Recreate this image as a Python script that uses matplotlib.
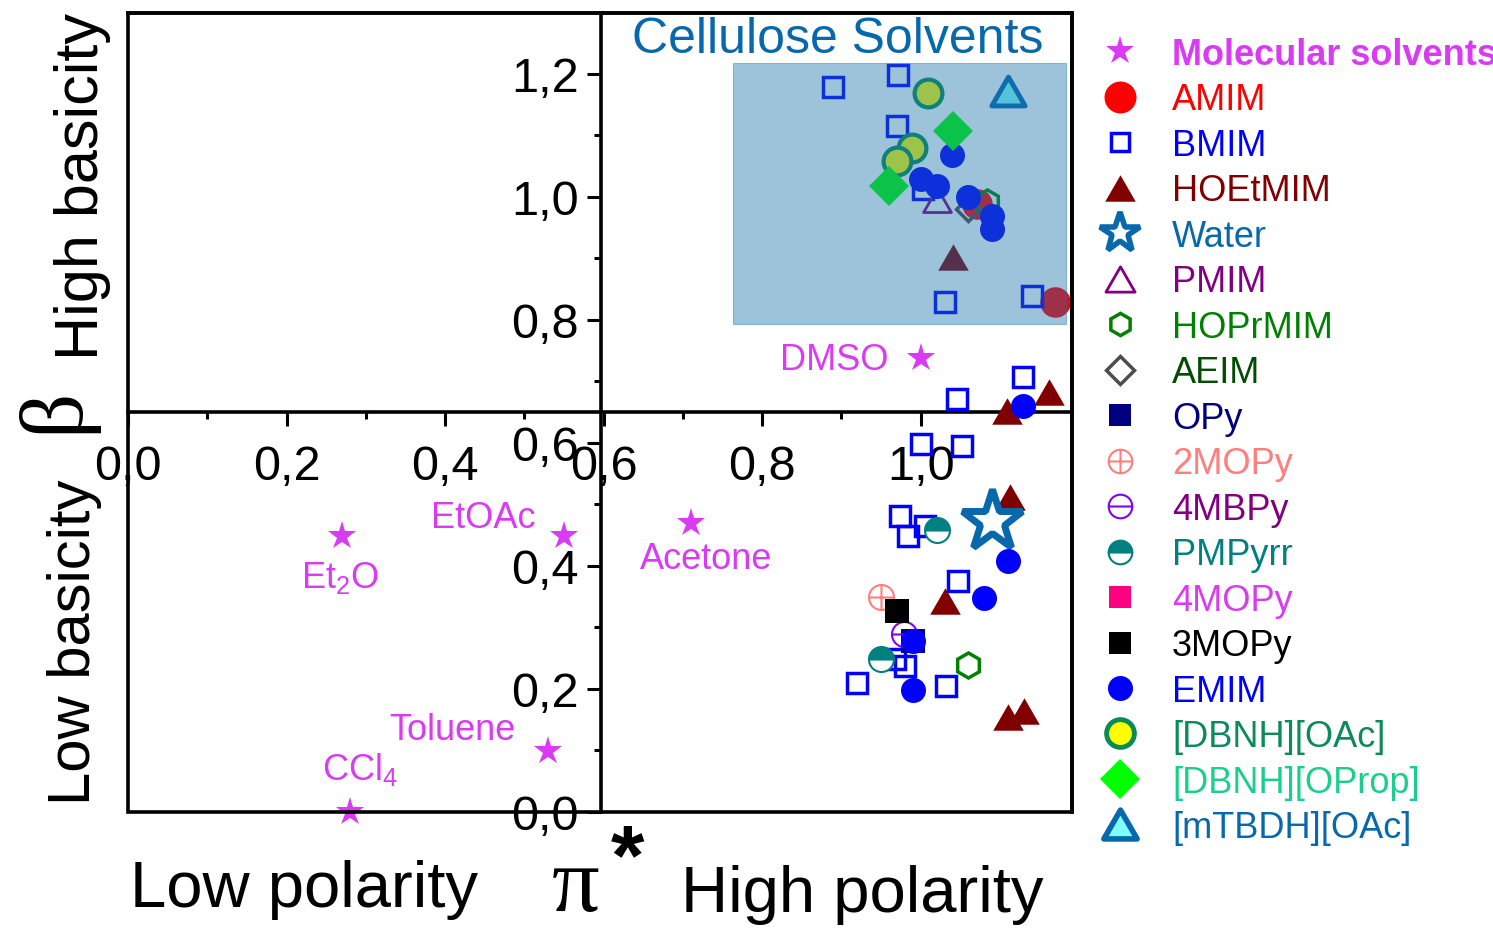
import matplotlib
matplotlib.use("Agg")
import matplotlib.pyplot as plt
from matplotlib.path import Path
from matplotlib.patches import Rectangle
from matplotlib.lines import Line2D
from matplotlib.ticker import MultipleLocator, FuncFormatter

plt.rcParams['font.family'] = ['Liberation Sans', 'DejaVu Sans']
plt.rcParams['mathtext.fontset'] = 'custom'
plt.rcParams['mathtext.rm'] = 'Liberation Sans'
plt.rcParams['mathtext.it'] = 'Liberation Sans:italic'
plt.rcParams['mathtext.bf'] = 'Liberation Sans:bold'

# ---------------- data (pi*, beta) ----------------
solv_names = ['Et$_2$O', 'EtOAc', 'Toluene', 'CCl$_4$', 'Acetone', 'DMSO']
solv_x = [0.270, 0.550, 0.530, 0.280, 0.710, 1.000]
solv_y = [0.449, 0.449, 0.099, 0.000, 0.470, 0.738]

amim_x = [1.071, 1.170]
amim_y = [0.989, 0.829]

bmim_x = [0.890, 0.972, 0.970, 1.031, 1.141, 1.003, 1.046, 1.129, 1.001, 1.052,
          0.974, 0.984, 1.006, 1.047, 0.920, 1.032, 0.980, 0.968]
bmim_y = [1.179, 1.198, 1.115, 0.829, 0.839, 1.013, 0.672, 0.707, 0.598, 0.595,
          0.481, 0.449, 0.465, 0.376, 0.210, 0.205, 0.237, 0.249]

hoetmim_x = [1.041, 1.109, 1.162, 1.113, 1.031, 1.110, 1.131]
hoetmim_y = [0.902, 0.652, 0.683, 0.512, 0.343, 0.154, 0.164]

water_x = [1.090]
water_y = [0.473]

pmim_x = [1.021]
pmim_y = [0.995]

hoprmim_x = [1.084, 1.060]
hoprmim_y = [0.992, 0.239]

aeim_x = [1.060]
aeim_y = [0.980]

opy_x = [0.990]
opy_y = [0.278]

mopy2_x = [0.950]
mopy2_y = [0.350]

mbpy4_x = [0.979]
mbpy4_y = [0.289]

pmpyrr_x = [1.021, 0.950]
pmpyrr_y = [0.459, 0.249]

mopy4_x = []
mopy4_y = []

mopy3_x = [0.970]
mopy3_y = [0.327]

emim_x = [1.040, 1.001, 1.021, 1.060, 1.090, 1.090, 1.129, 1.110, 1.080, 0.990, 0.990]
emim_y = [1.068, 1.029, 1.018, 1.000, 0.969, 0.948, 0.660, 0.408, 0.348, 0.278, 0.198]

dbnh_oac_x = [1.009, 0.989, 0.970]
dbnh_oac_y = [1.169, 1.080, 1.059]

dbnh_oprop_x = [1.041, 0.960]
dbnh_oprop_y = [1.107, 1.018]

mtbdh_x = [1.110]
mtbdh_y = [1.172]

legend_labels = ['Molecular solvents', 'AMIM', 'BMIM', 'HOEtMIM', 'Water', 'PMIM',
                 'HOPrMIM', 'AEIM', 'OPy', '2MOPy', '4MBPy', 'PMPyrr', '4MOPy',
                 '3MOPy', 'EMIM', '[DBNH][OAc]', '[DBNH][OProp]', '[mTBDH][OAc]']

# ---------------- marker shapes ----------------
tri = Path([(0, 0.866), (-1, -0.866), (1, -0.866), (0, 0.866)],
           [Path.MOVETO, Path.LINETO, Path.LINETO, Path.CLOSEPOLY])
hline = Path([(-1, 0), (1, 0)], [Path.MOVETO, Path.LINETO])
vline = Path([(0, -1), (0, 1)], [Path.MOVETO, Path.LINETO])
circ_plus = Path.make_compound_path(Path.unit_circle(), hline, vline)
circ_minus = Path.make_compound_path(Path.unit_circle(), hline)

MAG = '#D93BF5'
STEEL = '#0868AC'

styles = {
    'Molecular solvents': dict(marker='*', color=MAG, ms=21, mew=0),
    'AMIM': dict(marker='o', color='#FF0000', ms=22, mew=0),
    'BMIM': dict(marker='s', mfc='none', mec='#0000FF', ms=14, mew=2.5),
    'HOEtMIM': dict(marker=tri, color='#800000', ms=22, mew=0),
    'Water': dict(marker='*', mfc='white', mec=STEEL, ms=46, mew=5),
    'PMIM': dict(marker=tri, mfc='none', mec='#800080', ms=20, mew=2),
    'HOPrMIM': dict(marker='h', mfc='none', mec='#008000', ms=18, mew=2.5),
    'AEIM': dict(marker='D', mfc='none', mec='#4D4D4D', ms=12, mew=2.5),
    'OPy': dict(marker='s', color='#000080', ms=17, mew=0),
    '2MOPy': dict(marker=circ_plus, mfc='none', mec='#FF7F7F', ms=18, mew=1.5),
    '4MBPy': dict(marker=circ_minus, mfc='none', mec='#8000FF', ms=18, mew=1.5),
    'PMPyrr': dict(marker='o', fillstyle='top', mfc='#008080', mfcalt='white',
                   mec='#008080', ms=18, mew=1.5),
    '4MOPy': dict(marker='s', color='#FF0080', ms=17, mew=0),
    '3MOPy': dict(marker='s', color='#000000', ms=17, mew=0),
    'EMIM': dict(marker='o', color='#0000FF', ms=18, mew=0),
    '[DBNH][OAc]': dict(marker='o', mfc='#FFFF00', mec='#0A8A55', ms=20, mew=3),
    '[DBNH][OProp]': dict(marker='D', color='#00FF00', ms=20, mew=0),
    '[mTBDH][OAc]': dict(marker=tri, mfc='#80FFFF', mec=STEEL, ms=24, mew=3.5),
}

legend_sizes = {
    'Molecular solvents': 21, 'AMIM': 23, 'BMIM': 13.5, 'HOEtMIM': 22, 'Water': 30,
    'PMIM': 21, 'HOPrMIM': 16, 'AEIM': 14, 'OPy': 16.5, '2MOPy': 17, '4MBPy': 17,
    'PMPyrr': 17, '4MOPy': 16.5, '3MOPy': 16.5, 'EMIM': 18, '[DBNH][OAc]': 20,
    '[DBNH][OProp]': 20, '[mTBDH][OAc]': 24,
}
legend_mew = {'Water': 4, '[mTBDH][OAc]': 4, '[DBNH][OAc]': 3.5}

text_colors = [MAG, '#FF0000', '#0000FF', '#800000', STEEL, '#800080', '#008000',
               '#004D00', '#000080', '#FF7F7F', '#800080', '#008080', MAG, '#000000',
               '#0000FF', '#0B8A5A', '#19CF8B', STEEL]

series = {
    'Molecular solvents': (solv_x, solv_y), 'AMIM': (amim_x, amim_y),
    'BMIM': (bmim_x, bmim_y), 'HOEtMIM': (hoetmim_x, hoetmim_y),
    'Water': (water_x, water_y), 'PMIM': (pmim_x, pmim_y),
    'HOPrMIM': (hoprmim_x, hoprmim_y), 'AEIM': (aeim_x, aeim_y),
    'OPy': (opy_x, opy_y), '2MOPy': (mopy2_x, mopy2_y), '4MBPy': (mbpy4_x, mbpy4_y),
    'PMPyrr': (pmpyrr_x, pmpyrr_y), '4MOPy': (mopy4_x, mopy4_y),
    '3MOPy': (mopy3_x, mopy3_y), 'EMIM': (emim_x, emim_y),
    '[DBNH][OAc]': (dbnh_oac_x, dbnh_oac_y), '[DBNH][OProp]': (dbnh_oprop_x, dbnh_oprop_y),
    '[mTBDH][OAc]': (mtbdh_x, mtbdh_y),
}

# ---------------- figure ----------------
W, H = 1493, 929
fig = plt.figure(figsize=(W / 100, H / 100), dpi=100)
fig.patch.set_facecolor('white')


def fx(px):
    return px / W


def fy(py):
    return 1 - py / H


ax = fig.add_axes([fx(128), fy(813), (1072 - 128) / W, (813 - 14) / H])
ax.set_xlim(0, 1.191)
ax.set_ylim(0, 1.299)

LW = 2.6
ax.spines['left'].set_position(('data', 0.597))
ax.spines['bottom'].set_position(('data', 0.65))
for s in ax.spines.values():
    s.set_linewidth(LW)
ax.add_patch(Rectangle((0, 0), 1, 1, transform=ax.transAxes, fill=False,
                       lw=LW, edgecolor='black', clip_on=False, zorder=5))

fmt = FuncFormatter(lambda v, p: f"{v:.1f}".replace('.', ','))
ax.set_xticks([0, 0.2, 0.4, 0.6, 0.8, 1.0])
ax.set_yticks([0, 0.2, 0.4, 0.6, 0.8, 1.0, 1.2])
ax.xaxis.set_minor_locator(MultipleLocator(0.1))
ax.yaxis.set_minor_locator(MultipleLocator(0.1))
ax.xaxis.set_major_formatter(fmt)
ax.yaxis.set_major_formatter(fmt)
ax.tick_params(which='major', direction='out', length=10, width=2.2, labelsize=35, pad=6)
ax.tick_params(axis='x', which='major', pad=13)
ax.tick_params(which='minor', direction='out', length=5, width=2.2)
ax.tick_params(top=False, right=False)

# scatter series
for name in legend_labels:
    xs, ys = series[name]
    st = dict(styles[name])
    ax.plot(xs, ys, linestyle='none', clip_on=False, zorder=3, **st)

# solvent labels
label_offsets = {
    'Et$_2$O': (-2, -41, 'center'), 'EtOAc': (-81, 18, 'center'),
    'Toluene': (-96, 22, 'center'), 'CCl$_4$': (10, 43, 'center'),
    'Acetone': (15, -36, 'center'), 'DMSO': (-32, -1, 'right'),
}
for name, x, y in zip(solv_names, solv_x, solv_y):
    dx, dy, ha = label_offsets[name]
    ax.annotate(name, xy=(x, y), xytext=(dx, dy), textcoords='offset pixels',
                ha=ha, va='center', fontsize=26, color=MAG, zorder=6)

# cellulose solvent region
ax.add_patch(Rectangle((0.763, 0.793), 0.421, 0.425, facecolor='#1C74AC',
                       edgecolor='#1C74AC', lw=0.8, alpha=0.43, zorder=4))
ax.text(0.895, 1.257, 'Cellulose Solvents', ha='center', va='center',
        fontsize=36, color=STEEL, zorder=6)

# axis titles
fig.text(fx(83), fy(187), 'High basicity', rotation=90, ha='center', va='center',
         fontsize=44)
fig.text(fx(75), fy(642), 'Low basicity', rotation=90, ha='center', va='center',
         fontsize=43)
fig.text(fx(55), fy(410), 'β', rotation=90, ha='center', va='center',
         fontsize=64, family=['Liberation Serif', 'DejaVu Serif'])
fig.text(fx(304), fy(890), 'Low polarity', ha='center', va='center', fontsize=47)
fig.text(fx(862), fy(895), 'High polarity', ha='center', va='center', fontsize=47)
fig.text(fx(576), fy(889), 'π', ha='center', va='center', fontsize=68,
         family=['Liberation Serif', 'DejaVu Serif'])
fig.text(fx(628), fy(862), '*', ha='center', va='center', fontsize=62,
         fontweight='bold')

# legend
handles = []
for name in legend_labels:
    st = dict(styles[name])
    st['ms'] = legend_sizes[name]
    if name in legend_mew:
        st['mew'] = legend_mew[name]
    handles.append(Line2D([], [], linestyle='none', **st))
leg = ax.legend(handles, legend_labels, loc='upper left',
                bbox_to_anchor=(fx(1091), fy(38)), bbox_transform=fig.transFigure,
                frameon=False, fontsize=26, borderpad=0, borderaxespad=0,
                handlelength=1.6, handletextpad=0.64, labelspacing=0.29,
                numpoints=1)
for t, c in zip(leg.get_texts(), text_colors):
    t.set_color(c)
leg.get_texts()[0].set_fontweight('bold')

fig.savefig('out.png', dpi=100, facecolor='white')
